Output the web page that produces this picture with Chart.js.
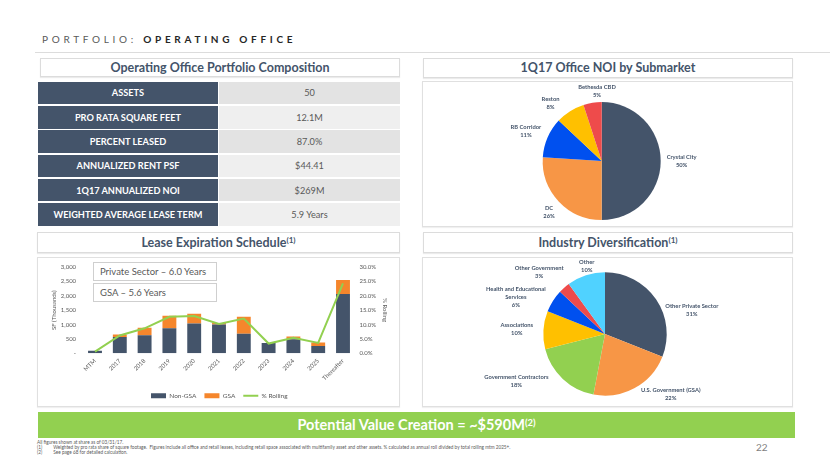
<!DOCTYPE html>
<html>
<head>
<meta charset="utf-8">
<script src="https://cdn.jsdelivr.net/npm/chart.js@4.4.0/dist/chart.umd.min.js"></script>
<style>
  html, body { margin:0; padding:0; background:#fff; }
  body { width:830px; height:467px; position:relative; overflow:hidden; font-family: Lato, "Noto Sans", sans-serif; color:#44546a; }
  .abs { position:absolute; }
  .hdr { position:absolute; background:#fff; border:1px solid #dcdcdc; box-shadow:0 1px 1px rgba(0,0,0,0.08); box-sizing:border-box;
         text-align:center; font-weight:bold; color:#44546a; font-size:12.5px; }
  .panel { position:absolute; background:#fff; border:1px solid #e0e0e0; box-shadow:0 1px 1px rgba(0,0,0,0.06); box-sizing:border-box; }
  .row { position:absolute; left:38px; width:362px; height:22.5px; }
  .row .k { position:absolute; left:0; top:0; width:180px; height:100%; background:#44546a; color:#fff; font-weight:bold; font-size:9.2px;
            display:flex; align-items:center; justify-content:center; }
  .row .v { position:absolute; left:181px; top:0; width:181px; height:100%; color:#595959; font-size:9.2px;
            display:flex; align-items:center; justify-content:center; }
  sup { font-size:65%; vertical-align: 0.45em; line-height:0; }
  .note { position:absolute; left:37px; font-size:4.7px; color:#595959; white-space:nowrap; }
  .tbox { position:absolute; left:93px; width:124px; height:19px; border:1px solid #cfcfcf; background:#fff; box-sizing:border-box;
          font-size:9.5px; color:#595959; padding-left:6px; display:flex; align-items:center; }
</style>
</head>
<body>
<div class="abs" style="left:42px; top:33px; font-size:10px; letter-spacing:3.7px; white-space:nowrap;">
  <span style="color:#595959;">PORTFOLIO:</span> <span style="color:#262626; font-weight:bold;">OPERATING OFFICE</span>
</div>
<div class="abs" style="left:35px; top:52px; width:795px; height:1px; background:#dcdcdc;"></div>

<div class="hdr" style="left:40px; top:58px; width:360px; height:19px; line-height:17px;">Operating Office Portfolio Composition</div>
<div class="hdr" style="left:423px; top:58px; width:370px; height:20px; line-height:18px;">1Q17 Office NOI by Submarket</div>
<div class="hdr" style="left:37px; top:232px; width:363px; height:21px; line-height:19px;">Lease Expiration Schedule<sup>(1)</sup></div>
<div class="hdr" style="left:423px; top:232px; width:370px; height:21px; line-height:19px;">Industry Diversification<sup>(1)</sup></div>

<div id="table"></div>

<div class="panel" style="left:422px; top:81px; width:371px; height:146px;"></div>
<div class="panel" style="left:37px; top:257px; width:363px; height:150px;"></div>
<div class="panel" style="left:422px; top:257px; width:371px; height:150px;"></div>

<div class="abs" style="left:422px; top:81px; width:371px; height:146px;"><canvas id="pie1"></canvas></div>
<div class="abs" style="left:38px; top:257px; width:362px; height:152px;"><canvas id="bar"></canvas></div>
<div class="abs" style="left:422px; top:257px; width:371px; height:150px;"><canvas id="pie2"></canvas></div>

<div class="tbox" style="top:262px;">Private Sector – 6.0 Years</div>
<div class="tbox" style="top:283px;">GSA – 5.6 Years</div>

<div class="abs" style="left:38px; top:412px; width:757px; height:26px; background:#92d050; color:#fff; font-weight:bold; font-size:14.5px; text-align:center; line-height:26px;">Potential Value Creation = ~$590M<sup>(2)</sup></div>

<div class="note" style="top:439px;">All figures shown at share as of 03/31/17.</div>
<div class="note" style="top:444px;">(1)<span style="display:inline-block; width:11px;"></span>Weighted by pro rata share of square footage.&nbsp; Figures include all office and retail leases, including retail space associated with multifamily asset and other assets. % calculated as annual roll divided by total rolling mtm 2025+.</div>
<div class="note" style="top:449px;">(2)<span style="display:inline-block; width:11px;"></span>See page 68 for detailed calculation.</div>
<div class="abs" style="left:756px; top:441px; font-size:10px; color:#7f7f7f;">22</div>

<script>
// ---------- DATA ----------
const tableLabels = ['ASSETS', 'PRO RATA SQUARE FEET', 'PERCENT LEASED', 'ANNUALIZED RENT PSF', '1Q17 ANNUALIZED NOI', 'WEIGHTED AVERAGE LEASE TERM'];
const tableValues = ['50', '12.1M', '87.0%', '$44.41', '$269M', '5.9 Years'];

const submarketLabels = ['Crystal City', 'DC', 'RB Corridor', 'Reston', 'Bethesda CBD'];
const submarketShare = [50, 26, 11, 8, 5];

const expiryYears = ['MTM', '2017', '2018', '2019', '2020', '2021', '2022', '2023', '2024', '2025', 'Thereafter'];
const nonGsaSF = [90, 570, 625, 870, 1035, 1000, 680, 360, 485, 255, 2060];
const gsaSF = [0, 85, 260, 435, 345, 55, 590, 0, 100, 120, 490];
const rollingPct = [0.6, 6.2, 8.7, 12.7, 13.0, 10.2, 12.1, 3.4, 5.4, 3.6, 24.3];
const leftTicks = { min: 0, max: 3000, step: 500 };
const rightTicks = { min: 0, max: 30, step: 5 };

const industryLabels = ['Other Private Sector', 'U.S. Government (GSA)', 'Government Contractors', 'Associations', 'Health and Educational Services', 'Other Government', 'Other'];
const industryShare = [31, 22, 18, 10, 6, 3, 10];

// ---------- TABLE ----------
const tbl = document.getElementById('table');
tableLabels.forEach((k, i) => {
  const r = document.createElement('div');
  r.className = 'row';
  r.style.top = (81.7 + i * 24.3) + 'px';
  r.innerHTML = '<div class="k">' + k + '</div><div class="v" style="background:' + (i % 2 === 0 ? '#e3e3e3' : '#efefef') + '">' + tableValues[i] + '</div>';
  tbl.appendChild(r);
});

// ---------- CHARTS ----------
Chart.defaults.font.family = 'Lato, "Noto Sans", sans-serif';
Chart.defaults.color = '#595959';
Chart.defaults.animation = false;

function wrap(name) {
  if (name.length <= 22) return [name];
  const cut = name.lastIndexOf(' ', 22);
  return [name.slice(0, cut), name.slice(cut + 1)];
}

const outsideLabels = {
  id: 'outsideLabels',
  afterDatasetsDraw(chart, args, opts) {
    const ctx = chart.ctx;
    const meta = chart.getDatasetMeta(0);
    const labels = chart.data.labels;
    const values = chart.data.datasets[0].data;
    ctx.save();
    ctx.font = 'bold ' + opts.size + 'px Lato, "Noto Sans", sans-serif';
    ctx.fillStyle = opts.color;
    ctx.textAlign = 'center';
    ctx.textBaseline = 'middle';
    meta.data.forEach((arc, i) => {
      const p = arc.getProps(['x', 'y', 'startAngle', 'endAngle', 'outerRadius'], true);
      const mid = (p.startAngle + p.endAngle) / 2;
      const d = p.outerRadius * opts.factor;
      const n = opts.nudges[i] || [0, 0];
      const cx = p.x + Math.cos(mid) * d + n[0];
      const cy = p.y + Math.sin(mid) * d + n[1];
      const lines = wrap(labels[i]).concat([values[i] + '%']);
      lines.forEach((t, j) => ctx.fillText(t, cx, cy + (j - (lines.length - 1) / 2) * opts.lineHeight));
    });
    ctx.restore();
  }
};

const navy = '#44546a', orange = '#f79646', blue = '#0050ef', gold = '#ffc000', red = '#ee4b4b', green = '#92d050', sky = '#50d2ff';

new Chart(document.getElementById('pie1'), {
  type: 'pie',
  data: { labels: submarketLabels, datasets: [{ data: submarketShare, backgroundColor: [navy, orange, blue, gold, red], borderWidth: 0, hoverOffset: 0 }] },
  options: {
    responsive: true, maintainAspectRatio: false,
    layout: { padding: { top: 21, bottom: 7, left: 0, right: 11.6 } },
    plugins: {
      legend: { display: false }, tooltip: { enabled: false },
      outsideLabels: { size: 5.8, color: '#44546a', factor: 1.27, lineHeight: 8,
        nudges: [[5, 0], [2, 0], [-7, 0], [-11, 5], [7, 4]] }
    }
  },
  plugins: [outsideLabels]
});

new Chart(document.getElementById('pie2'), {
  type: 'pie',
  data: { labels: industryLabels, datasets: [{ data: industryShare, backgroundColor: [navy, orange, green, gold, blue, red, sky], borderWidth: 0, hoverOffset: 0 }] },
  options: {
    responsive: true, maintainAspectRatio: false,
    layout: { padding: { top: 15.3, bottom: 11.3, left: 0, right: 5 } },
    plugins: {
      legend: { display: false }, tooltip: { enabled: false },
      outsideLabels: { size: 5.8, color: '#44546a', factor: 1.27, lineHeight: 8,
        nudges: [[22, 20], [28, -9], [-35, -10], [-10, 0], [-23, 5], [-14, -3], [6, 7]] }
    }
  },
  plugins: [outsideLabels]
});

new Chart(document.getElementById('bar'), {
  data: {
    labels: expiryYears,
    datasets: [
      { type: 'bar', label: 'Non-GSA', data: nonGsaSF, backgroundColor: navy, stack: 's', yAxisID: 'y', order: 1,
        categoryPercentage: 0.8, barPercentage: 0.7, pointStyle: 'rect' },
      { type: 'bar', label: 'GSA', data: gsaSF, backgroundColor: '#f5862c', stack: 's', yAxisID: 'y', order: 1,
        categoryPercentage: 0.8, barPercentage: 0.7, pointStyle: 'rect' },
      { type: 'line', label: '% Rolling', data: rollingPct, borderColor: green, backgroundColor: green, borderWidth: 2,
        pointRadius: 0, yAxisID: 'y1', order: 0, tension: 0, pointStyle: 'line' }
    ]
  },
  options: {
    responsive: true, maintainAspectRatio: false,
    layout: { padding: { top: 8, left: 10, right: 9.4, bottom: 0 } },
    plugins: {
      tooltip: { enabled: false },
      legend: { position: 'bottom',
        labels: { usePointStyle: true, pointStyleWidth: 15, boxHeight: 5, padding: 8, color: '#595959',
                  font: { size: 6.5 }, sort: (a, b) => a.datasetIndex - b.datasetIndex } }
    },
    scales: {
      x: { stacked: true, grid: { display: false, drawTicks: false }, border: { display: false },
           ticks: { font: { size: 6 }, color: '#595959', maxRotation: 45, minRotation: 45, autoSkip: false, padding: 4 },
           afterFit: a => { a.height = 31.2; } },
      y: { stacked: true, min: leftTicks.min, max: leftTicks.max, grid: { display: false, drawTicks: false }, border: { display: false },
           ticks: { stepSize: leftTicks.step, font: { size: 6 }, color: '#595959', padding: 6.5,
                    callback: v => v === 0 ? '-' : v.toLocaleString('en-US') },
           title: { display: true, text: 'SF (Thousands)', font: { size: 6 }, color: '#595959', padding: 2 },
           afterFit: a => { a.width = 34.6; } },
      y1: { position: 'right', min: rightTicks.min, max: rightTicks.max, grid: { display: false, drawTicks: false }, border: { display: false },
            ticks: { stepSize: rightTicks.step, font: { size: 6 }, color: '#595959', padding: 4,
                     callback: v => v.toFixed(1) + '%' },
            title: { display: true, text: '% Rolling', font: { size: 6 }, color: '#595959', padding: 2 },
            afterFit: a => { a.width = 35.2; } }
    }
  }
});
</script>
</body>
</html>
